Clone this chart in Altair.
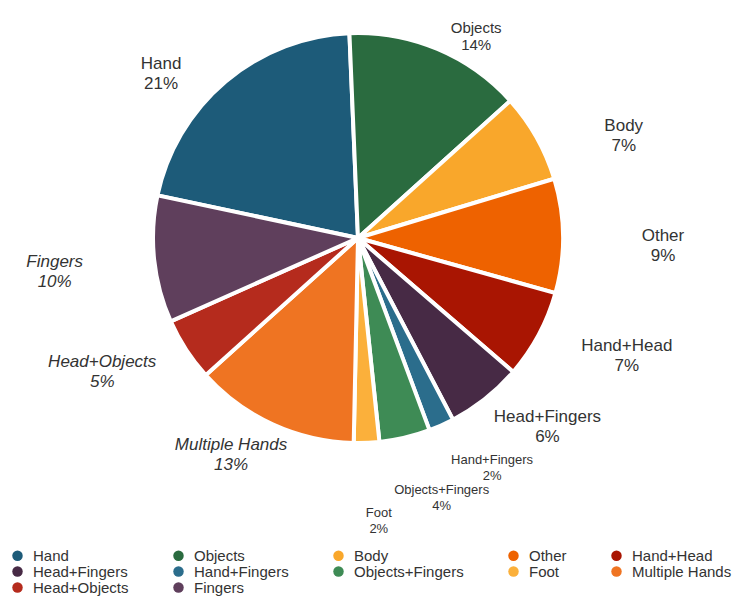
import math
import altair as alt
import pandas as pd

categories = ["Hand", "Objects", "Body", "Other", "Hand+Head", "Head+Fingers",
              "Hand+Fingers", "Objects+Fingers", "Foot", "Multiple Hands",
              "Head+Objects", "Fingers"]
shares = [21, 14, 7, 9, 7, 6, 2, 4, 2, 13, 5, 10]
colors = ["#1d5b79", "#2a6b3f", "#f9a72b", "#ee6200", "#a91502", "#472a45",
          "#2b6d8c", "#3e8b55", "#fbb03b", "#ef7422", "#b52b1d", "#5f3f5c"]

normal_labels = ["Hand", "Body", "Other", "Hand+Head", "Head+Fingers"]
italic_labels = ["Fingers", "Head+Objects", "Multiple Hands"]

df = pd.DataFrame({"category": categories, "share": shares,
                   "idx": list(range(len(categories)))})

OFF = -78 * math.pi / 180
CX, CY, R = 350, 230, 205
RX, RY = 305, 228
FONT = "Liberation Sans"
TXT = "#333333"

color = alt.Color(
    "category:N",
    scale=alt.Scale(domain=categories, range=colors),
    legend=alt.Legend(
        title=None, orient="none", legendX=2, legendY=540, columns=5,
        direction="horizontal",
        symbolType="circle", symbolSize=110, symbolStrokeWidth=0,
        labelFont=FONT, labelFontSize=15, labelColor=TXT, labelLimit=200,
        rowPadding=0, columnPadding=42, labelOffset=8,
    ),
)

base = alt.Chart(df)

pie = base.mark_arc(outerRadius=R, stroke="white", strokeWidth=4).encode(
    theta=alt.Theta("share:Q", stack=True,
                    scale=alt.Scale(range=[OFF, OFF + 2 * math.pi])),
    color=color,
    order=alt.Order("idx:Q"),
    x=alt.value(CX),
    y=alt.value(CY),
)

lab = (
    base.transform_window(cum="sum(share)", sort=[alt.SortField("idx", order="ascending")],
                          frame=[None, 0])
    .transform_joinaggregate(total="sum(share)")
    .transform_calculate(mid=f"{OFF} + 2*PI*(datum.cum - datum.share/2)/datum.total")
    .transform_calculate(
        lx=f"{CX} + {RX}*sin(datum.mid)",
        ly=f"{CY} - {RY}*cos(datum.mid)",
        label="datum.category + '\\n' + datum.share + '%'",
    )
)

enc = dict(x=alt.X("lx:Q", scale=None), y=alt.Y("ly:Q", scale=None), text="label:N")


def text_layer(names, **kw):
    return lab.transform_filter(
        alt.FieldOneOfPredicate(field="category", oneOf=names)
    ).mark_text(font=FONT, color=TXT, lineBreak="\n", align="center",
                baseline="middle", **kw).encode(**enc)


layers = [
    pie,
    text_layer(normal_labels, fontSize=17, lineHeight=20),
    text_layer(["Objects"], fontSize=15, lineHeight=17),
    text_layer(italic_labels, fontSize=17, lineHeight=20, fontStyle="italic"),
    text_layer(["Hand+Fingers"], fontSize=13, lineHeight=16, dx=10, dy=14),
    text_layer(["Objects+Fingers"], fontSize=13, lineHeight=16, dx=14, dy=30),
    text_layer(["Foot"], fontSize=13, lineHeight=16, dx=8, dy=47),
]

chart = (
    alt.layer(*layers)
    .properties(width=727, height=588, padding=0, autosize=alt.AutoSizeParams(type="none"))
    .configure_view(stroke=None)
)

chart.save("out.html", embed_options={"renderer": "svg", "actions": False})
